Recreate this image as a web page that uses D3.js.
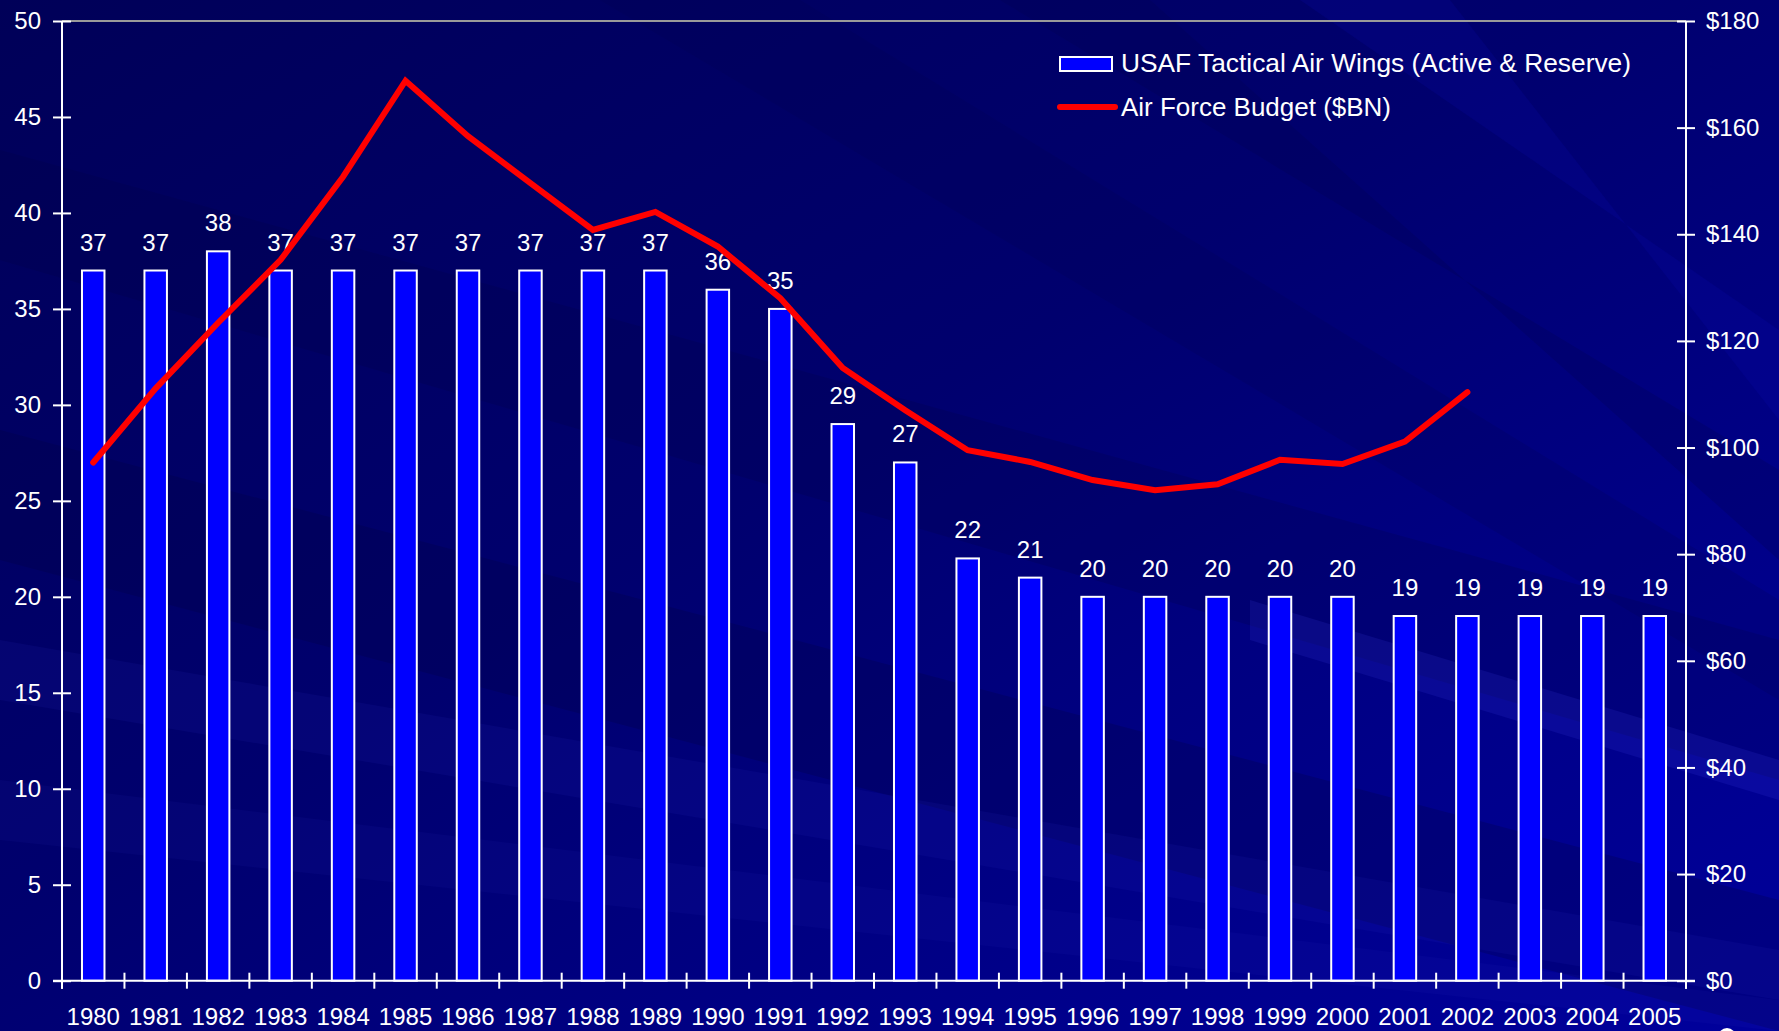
<!DOCTYPE html>
<html>
<head>
<meta charset="utf-8">
<script src="https://cdn.jsdelivr.net/npm/d3@7"></script>
<style>
  body { margin: 0; background: #000080; }
  svg { display: block; }
  text { font-family: "Liberation Sans", Arial, sans-serif; fill: #fff; }
</style>
</head>
<body>
<div id="chart"></div>
<script>
// chart data
var years = ["1980","1981","1982","1983","1984","1985","1986","1987","1988","1989",
  "1990","1991","1992","1993","1994","1995","1996","1997","1998","1999",
  "2000","2001","2002","2003","2004","2005"];
var wings = [37,37,38,37,37,37,37,37,37,37,36,35,29,27,22,21,20,20,20,20,20,19,19,19,19,19];
var budgetYears = years.slice(0, 23);
var budget = [97.2,111.1,123.4,135.2,150.8,168.8,158.4,149.6,140.8,144.2,137.7,128.0,
  114.9,107.0,99.5,97.3,93.9,92.0,93.1,97.7,96.9,101.1,110.4];
var leftTicks = [0,5,10,15,20,25,30,35,40,45,50];
var rightTicks = [0,20,40,60,80,100,120,140,160,180];
var seriesNames = ["USAF Tactical Air Wings (Active & Reserve)", "Air Force Budget ($BN)"];

var svgWidth = 1779;
var svgHeight = 1031;
var plot = { left: 62, right: 1686, top: 21, bottom: 980.7 };

var svg = d3.select("#chart")
  .append("svg")
  .attr("width", svgWidth)
  .attr("height", svgHeight);

//Background with diagonal streaks
var defs = svg.append("defs");
var bg = defs.append("linearGradient")
  .attr("id", "bg")
  .attr("x1", "0").attr("y1", "0").attr("x2", "1").attr("y2", "1");
bg.append("stop").attr("offset", "0").attr("stop-color", "#000058");
bg.append("stop").attr("offset", "0.45").attr("stop-color", "#00006e");
bg.append("stop").attr("offset", "0.75").attr("stop-color", "#000088");
bg.append("stop").attr("offset", "1").attr("stop-color", "#00009c");

svg.append("rect")
  .attr("width", svgWidth)
  .attr("height", svgHeight)
  .attr("fill", "url(#bg)");

var streaks = [
  { pts: [[0,430],[0,560],[1779,1031],[1779,900]], c: "#000040", o: 0.25 },
  { pts: [[0,640],[0,700],[1779,1000],[1779,950]], c: "#3030d0", o: 0.1 },
  { pts: [[0,150],[0,260],[1779,780],[1779,640]], c: "#000040", o: 0.2 },
  { pts: [[1250,600],[1250,640],[1779,800],[1779,760]], c: "#5050ff", o: 0.13 },
  { pts: [[1300,0],[1450,0],[1779,420],[1779,330]], c: "#1010c0", o: 0.15 },
  { pts: [[1000,0],[1150,0],[1779,560],[1779,470]], c: "#000050", o: 0.25 },
  { pts: [[600,0],[800,0],[1779,600],[1779,700]], c: "#000050", o: 0.18 },
  { pts: [[0,780],[0,840],[1779,1031],[1779,1000]], c: "#3030d0", o: 0.08 }
];
svg.selectAll("polygon.streak")
  .data(streaks)
  .enter()
  .append("polygon")
  .attr("class", "streak")
  .attr("points", d => d.pts.map(p => p.join(",")).join(" "))
  .attr("fill", d => d.c)
  .attr("opacity", d => d.o);

//Scales
var x = d3.scaleBand()
  .domain(years)
  .range([plot.left, plot.right]);

var yLeft = d3.scaleLinear()
  .domain([0, 50])
  .range([plot.bottom, plot.top]);

var yRight = d3.scaleLinear()
  .domain([0, 180])
  .range([plot.bottom, plot.top]);

var center = d => x(d) + x.bandwidth() / 2;
var barWidth = x.bandwidth() * 0.36;

//Top grid line
svg.append("line")
  .attr("x1", plot.left).attr("x2", plot.right)
  .attr("y1", yLeft(50)).attr("y2", yLeft(50))
  .attr("stroke", "#9a9a9a")
  .attr("stroke-width", 2);

//Bars
svg.selectAll("rect.bar")
  .data(years)
  .enter()
  .append("rect")
  .attr("class", "bar")
  .attr("x", d => center(d) - barWidth / 2)
  .attr("y", (d, i) => yLeft(wings[i]))
  .attr("width", barWidth)
  .attr("height", (d, i) => yLeft(0) - yLeft(wings[i]))
  .attr("fill", "#0000ff")
  .attr("stroke", "#fff")
  .attr("stroke-width", 2);

//Bar value labels
svg.selectAll("text.val")
  .data(years)
  .enter()
  .append("text")
  .attr("class", "val")
  .attr("x", d => center(d))
  .attr("y", (d, i) => yLeft(wings[i]) - 20)
  .attr("text-anchor", "middle")
  .attr("font-size", 24)
  .text((d, i) => wings[i]);

//Budget line
var line = d3.line()
  .x(d => center(d))
  .y((d, i) => yRight(budget[i]));

svg.append("path")
  .datum(budgetYears)
  .attr("d", line)
  .attr("fill", "none")
  .attr("stroke", "#ff0000")
  .attr("stroke-width", 6)
  .attr("stroke-linecap", "round")
  .attr("stroke-linejoin", "miter");

//Axes
function styleAxis(g) {
  g.select(".domain").remove();
  g.selectAll("line").attr("stroke", "#fff").attr("stroke-width", 2);
  g.selectAll("text")
    .attr("font-size", 24)
    .attr("fill", "#fff")
    .style("font-family", "'Liberation Sans', Arial, sans-serif");
}

var leftAxis = d3.axisLeft(yLeft).tickValues(leftTicks).tickSize(9).tickPadding(12);
svg.append("g")
  .attr("transform", `translate(${plot.left},0)`)
  .call(leftAxis)
  .call(styleAxis)
  .call(g => g.selectAll(".tick line").attr("x2", -9).attr("x1", 9))
  .call(g => g.selectAll(".tick text").attr("x", -21));

var rightAxis = d3.axisRight(yRight).tickValues(rightTicks).tickSize(9)
  .tickFormat(d => "$" + d);
svg.append("g")
  .attr("transform", `translate(${plot.right},0)`)
  .call(rightAxis)
  .call(styleAxis)
  .call(g => g.selectAll(".tick line").attr("x1", -9).attr("x2", 9))
  .call(g => g.selectAll(".tick text").attr("x", 20));

//Year labels: baseline sits 44px under the axis
var bottomAxis = d3.axisBottom(x).tickSize(0);
svg.append("g")
  .attr("transform", `translate(0,${plot.bottom})`)
  .call(bottomAxis)
  .call(styleAxis)
  .call(g => g.selectAll(".tick text").attr("y", 44).attr("dy", null));

//Category boundary ticks
var bounds = years.map(d => x(d)).concat([x.range()[1]]);
svg.selectAll("line.btick")
  .data(bounds)
  .enter()
  .append("line")
  .attr("class", "btick")
  .attr("x1", d => d).attr("x2", d => d)
  .attr("y1", plot.bottom - 8).attr("y2", plot.bottom + 8)
  .attr("stroke", "#fff")
  .attr("stroke-width", 2);

//Axis lines
svg.append("line")
  .attr("x1", plot.left).attr("x2", plot.left)
  .attr("y1", plot.top).attr("y2", plot.bottom + 8)
  .attr("stroke", "#fff").attr("stroke-width", 2);
svg.append("line")
  .attr("x1", plot.right).attr("x2", plot.right)
  .attr("y1", plot.top).attr("y2", plot.bottom + 8)
  .attr("stroke", "#fff").attr("stroke-width", 2);
svg.append("line")
  .attr("x1", plot.left - 9).attr("x2", plot.right + 9)
  .attr("y1", plot.bottom).attr("y2", plot.bottom)
  .attr("stroke", "#fff").attr("stroke-width", 2);

//Legend
var legend = svg.append("g").attr("transform", "translate(1059,0)");
legend.append("rect")
  .attr("x", 1).attr("y", 57)
  .attr("width", 52).attr("height", 14)
  .attr("fill", "#0000ff")
  .attr("stroke", "#fff")
  .attr("stroke-width", 2);
legend.append("text")
  .attr("x", 62).attr("y", 72)
  .attr("font-size", 25)
  .attr("textLength", 510)
  .attr("lengthAdjust", "spacingAndGlyphs")
  .text(seriesNames[0]);
legend.append("line")
  .attr("x1", 1).attr("x2", 56)
  .attr("y1", 107).attr("y2", 107)
  .attr("stroke", "#ff0000")
  .attr("stroke-width", 6)
  .attr("stroke-linecap", "round");
legend.append("text")
  .attr("x", 62).attr("y", 116)
  .attr("font-size", 25)
  .attr("textLength", 270)
  .attr("lengthAdjust", "spacingAndGlyphs")
  .text(seriesNames[1]);

//Corner mark at the slide edge
svg.append("circle")
  .attr("cx", 1727).attr("cy", 1037)
  .attr("r", 9)
  .attr("fill", "#fff");
</script>
</body>
</html>
